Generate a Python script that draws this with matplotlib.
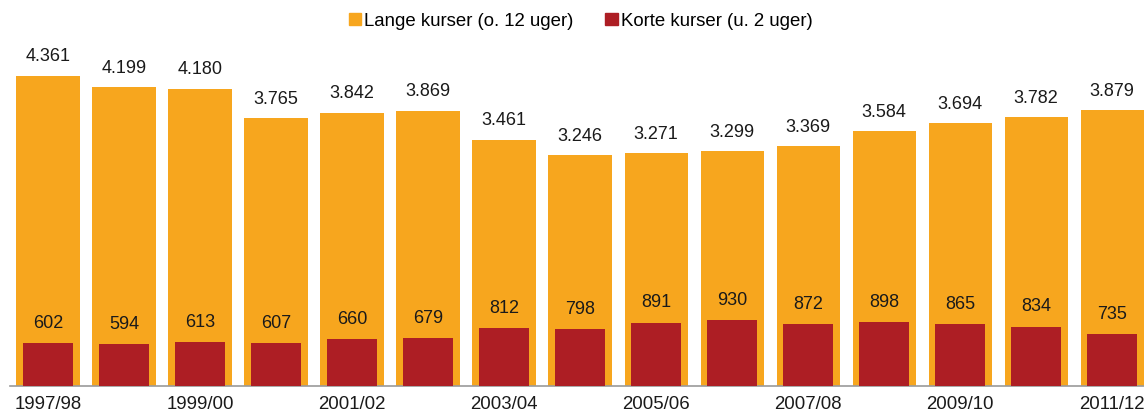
import matplotlib
matplotlib.use("Agg")
import matplotlib.pyplot as plt
from matplotlib.patches import Patch

categories = ["1997/98", "1998/99", "1999/00", "2000/01", "2001/02", "2002/03", "2003/04",
              "2004/05", "2005/06", "2006/07", "2007/08", "2008/09", "2009/10", "2010/11", "2011/12"]
long_courses = [4361, 4199, 4180, 3765, 3842, 3869, 3461, 3246, 3271, 3299, 3369, 3584, 3694, 3782, 3879]
short_courses = [602, 594, 613, 607, 660, 679, 812, 798, 891, 930, 872, 898, 865, 834, 735]
series_names = ["Lange kurser (o. 12 uger)", "Korte kurser (u. 2 uger)"]

ORANGE = "#F7A61E"
RED = "#AD1E24"
plt.rcParams['font.family'] = ['Liberation Sans', 'DejaVu Sans']

fig = plt.figure(figsize=(11.44, 4.16), dpi=100)
ax = fig.add_axes([10 / 1144, 30 / 416, 1134 / 1144, 386 / 416])

x = list(range(len(categories)))
ax.bar(x, long_courses, width=0.83, color=ORANGE, zorder=2)
ax.bar(x, short_courses, width=0.66, color=RED, zorder=3)

def fmt(v):
    return f"{v:,}".replace(",", ".")

for xi, v in zip(x, long_courses):
    ax.annotate(fmt(v), (xi, v), xytext=(0, 13.7), textcoords="offset points",
                ha="center", va="center", fontsize=13, color="#1a1a1a", annotation_clip=False)
for xi, v in zip(x, short_courses):
    ax.annotate(fmt(v), (xi, v), xytext=(0, 14.2), textcoords="offset points",
                ha="center", va="center", fontsize=13, color="#1a1a1a", zorder=4, annotation_clip=False)

ax.set_xlim(-0.5, 14.42)
ax.set_ylim(0, 5429)
ax.set_xticks(x[::2])
ax.set_xticklabels(categories[::2], fontsize=13.4, color="#1a1a1a")
ax.tick_params(axis="x", length=0, pad=7)
ax.set_yticks([])
for s in ["top", "right", "left"]:
    ax.spines[s].set_visible(False)
ax.spines["bottom"].set_color("#9a9a9a")
ax.spines["bottom"].set_linewidth(1.2)
ax.patch.set_alpha(0)

handles = [Patch(color=ORANGE), Patch(color=RED)]
fig.legend(handles, series_names, loc="center", bbox_to_anchor=(0.5074, 1 - 21 / 416), ncol=2,
           frameon=False, fontsize=13.4, handlelength=0.68, handleheight=0.68,
           handletextpad=0.15, columnspacing=1.7)

fig.savefig("out.png", dpi=100)
